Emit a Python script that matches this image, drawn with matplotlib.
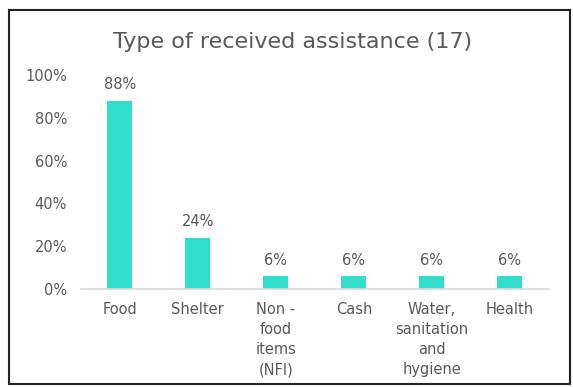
import matplotlib
matplotlib.use("Agg")
import matplotlib.pyplot as plt
from matplotlib.patches import Rectangle
from matplotlib.ticker import FuncFormatter

categories = ["Food", "Shelter", "Non -\nfood\nitems\n(NFI)", "Cash",
              "Water,\nsanitation\nand\nhygiene", "Health"]
shares = [88, 24, 6, 6, 6, 6]
y_ticks = [0, 20, 40, 60, 80, 100]

TEXT = "#595959"
BAR = "#33DDCC"

plt.rcParams["font.family"] = ["DejaVu Sans"]

fig = plt.figure(figsize=(5.73, 3.87), dpi=100)
ax = fig.add_axes([0.141, 0.253, 0.817, 0.553])

x = range(len(categories))
bars = ax.bar(x, shares, width=0.32, color=BAR)
for rect, v in zip(bars, shares):
    ax.text(rect.get_x() + rect.get_width() / 2, v + 4, f"{v}%",
            ha="center", va="bottom", fontsize=10.5, color=TEXT)

ax.set_xlim(-0.5, len(categories) - 0.5)
ax.set_ylim(0, 100)
ax.set_yticks(y_ticks)
ax.yaxis.set_major_formatter(FuncFormatter(lambda v, _: f"{v:.0f}%"))
ax.set_xticks(list(x))
ax.set_xticklabels(categories, linespacing=1.44)
ax.tick_params(axis="both", length=0, labelsize=10.5, colors=TEXT)
ax.tick_params(axis="x", pad=9)
ax.tick_params(axis="y", pad=10)
for side in ("top", "right", "left"):
    ax.spines[side].set_visible(False)
ax.spines["bottom"].set_color("#D9D9D9")
ax.spines["bottom"].set_linewidth(1.2)

fig.text(0.51, 0.876, "Type of received assistance (17)", ha="center",
         va="baseline", fontsize=16, color=TEXT)

# chart frame
fig.patches.append(Rectangle((0.016, 0.008), 0.978, 0.966, transform=fig.transFigure,
                             fill=False, edgecolor="#222222", linewidth=1.5))

fig.savefig("out.png", dpi=100)
